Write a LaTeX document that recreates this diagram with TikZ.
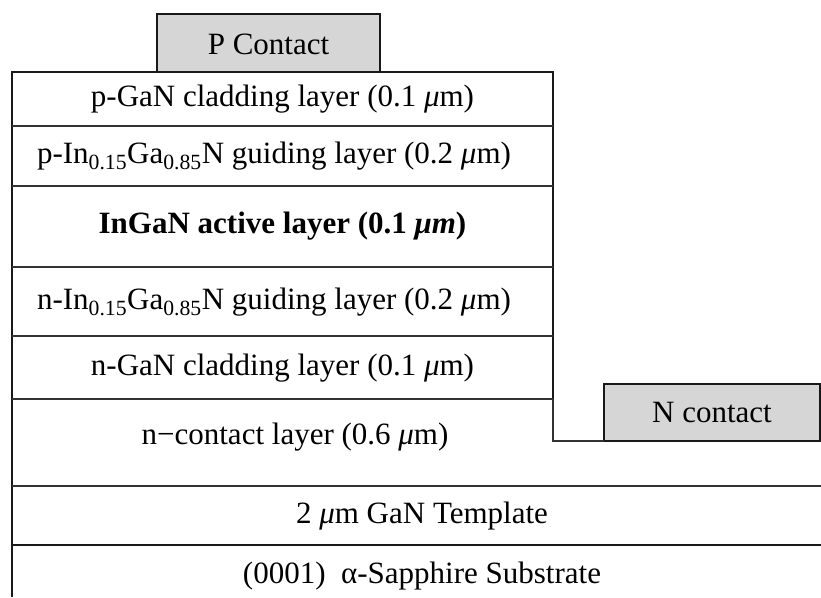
\documentclass[tikz,border=0pt]{standalone}
\usepackage{fontspec}
\setmainfont{Liberation Serif}
\begin{document}
\begin{tikzpicture}[x=1pt,y=-1pt,
  every node/.style={font=\fontsize{31}{36}\selectfont, inner sep=0pt, text=black},
  contact/.style={draw=black!90, fill=black!16, line width=2.4pt},
  outer/.style={draw=black!90, line width=2.8pt},
  sep/.style={draw=black!80, line width=1.8pt},
  septhick/.style={draw=black!90, line width=2.8pt}]
\useasboundingbox (0,0) rectangle (821,597);

% contact pads
\draw[contact] (157,14) rectangle (380,72);
\draw[contact] (604,384) rectangle (820,441);

% outline of the mesa and the lower layers
\draw[outer] (12,597) -- (12,72) -- (553,72) -- (553,399);
\draw[sep, line width=2.2pt] (553,399) -- (553,441) -- (604,441);
\draw[contact, fill=none] (604,441) -- (820,441);

% layer interfaces
\draw[sep] (12,126) -- (553,126);
\draw[sep] (12,186) -- (553,186);
\draw[sep] (12,267) -- (553,267);
\draw[sep] (12,336) -- (553,336);
\draw[sep] (12,399) -- (553,399);
\draw[sep] (12,486) -- (821,486);
\draw[septhick] (12,545) -- (821,545);

% labels
\node (pc) at (268.5,44) {P Contact};
\node (nc) at (712,412) {N contact};
\node (l1) at (282.5,99) {p-GaN cladding layer (0.1 \textit{μ}m)};
\node (l2) at (274,156) {p-In\textsubscript{0.15}Ga\textsubscript{0.85}N guiding layer (0.2 \textit{μ}m)};
\node (l3) at (282.5,226) {\textbf{InGaN active layer (0.1 \textit{μm})}};
\node (l4) at (274,302) {n-In\textsubscript{0.15}Ga\textsubscript{0.85}N guiding layer (0.2 \textit{μ}m)};
\node (l5) at (282.5,368) {n-GaN cladding layer (0.1 \textit{μ}m)};
\node (l6) at (295,437) {n−contact layer (0.6 \textit{μ}m)};
\node (l7) at (422,516) {2 \textit{μ}m GaN Template};
\node (l8) at (422,576) {(0001)~~α-Sapphire Substrate};
\end{tikzpicture}
\end{document}
